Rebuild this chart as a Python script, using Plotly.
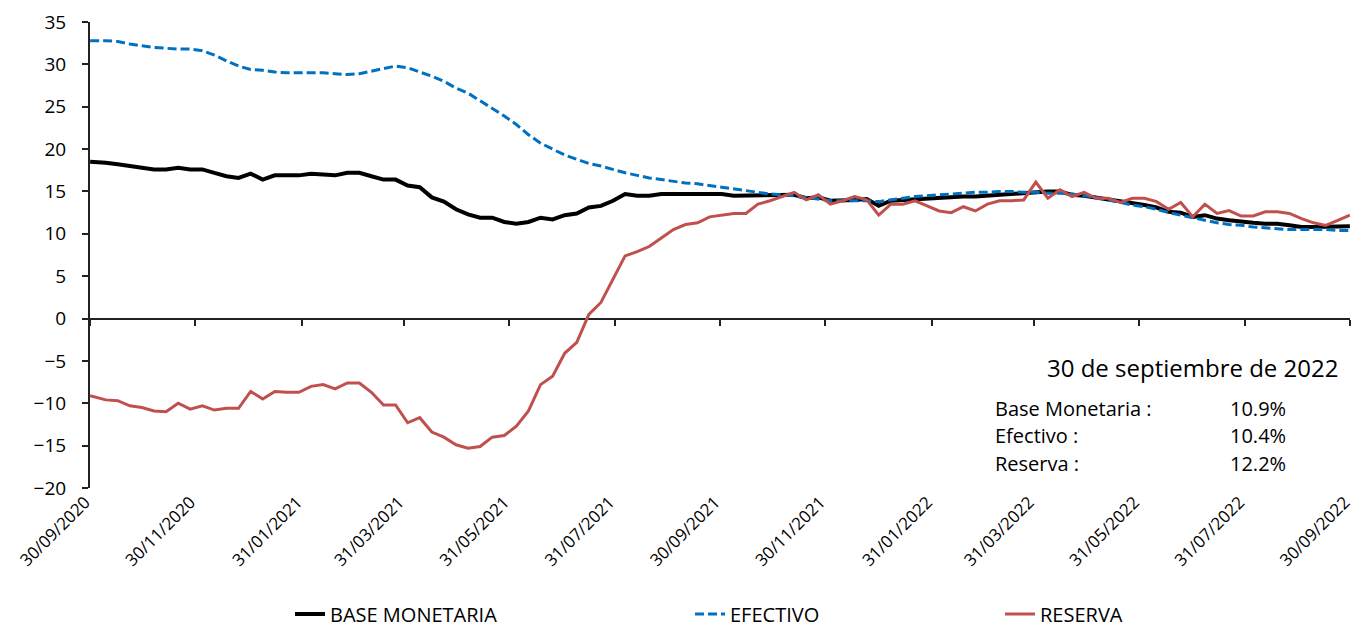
import pandas as pd
import plotly.graph_objects as go

# ---- data ----
dates = list(pd.date_range("2020-10-02", "2022-09-30", freq="7D"))
dates[0] = pd.Timestamp("2020-09-30")

base_monetaria = [18.5, 18.4, 18.2, 18.0, 17.8, 17.6, 17.6, 17.8, 17.6, 17.6,
                  17.2, 16.8, 16.6, 17.1, 16.4, 16.9, 16.9, 16.9, 17.1, 17.0,
                  16.9, 17.2, 17.2, 16.8, 16.4, 16.4, 15.7, 15.5, 14.3, 13.8,
                  12.9, 12.3, 11.9, 11.9, 11.4, 11.2, 11.4, 11.9, 11.7, 12.2,
                  12.4, 13.1, 13.3, 13.9, 14.7, 14.5, 14.5, 14.7, 14.7, 14.7,
                  14.7, 14.7, 14.7, 14.5, 14.5, 14.5, 14.5, 14.6, 14.6, 14.2,
                  14.3, 13.9, 13.9, 14.0, 14.1, 13.3, 13.9, 14.0, 14.1, 14.2,
                  14.2, 14.3, 14.4, 14.4, 14.5, 14.6, 14.7, 14.8, 15.0, 15.0,
                  15.0, 14.6, 14.5, 14.3, 14.1, 13.9, 13.6, 13.4, 13.1, 12.6,
                  12.5, 12.0, 12.2, 11.8, 11.6, 11.4, 11.3, 11.2, 11.2, 11.0,
                  10.8, 10.8, 10.8, 10.8, 10.9]

efectivo = [32.8, 32.8, 32.7, 32.4, 32.2, 32.0, 31.9, 31.8, 31.8, 31.6,
            31.1, 30.4, 29.8, 29.4, 29.3, 29.1, 29.0, 29.0, 29.0, 29.0,
            28.9, 28.8, 28.9, 29.2, 29.5, 29.8, 29.6, 29.1, 28.6, 28.0,
            27.2, 26.6, 25.7, 24.9, 23.9, 22.9, 21.7, 20.7, 20.0, 19.3,
            18.8, 18.3, 18.0, 17.6, 17.2, 16.9, 16.6, 16.4, 16.2, 16.0,
            15.9, 15.7, 15.5, 15.3, 15.1, 14.9, 14.7, 14.6, 14.5, 14.3,
            14.1, 13.9, 13.9, 13.9, 13.9, 13.8, 14.0, 14.2, 14.4, 14.5,
            14.6, 14.7, 14.8, 14.9, 14.9, 15.0, 15.0, 14.9, 14.9, 14.8,
            14.8, 14.7, 14.5, 14.3, 14.0, 13.7, 13.4, 13.2, 12.9, 12.5,
            12.2, 11.9, 11.6, 11.3, 11.1, 11.0, 10.8, 10.7, 10.6, 10.5,
            10.5, 10.5, 10.5, 10.4, 10.4]

reserva = [-9.1, -9.6, -9.7, -10.3, -10.5, -10.9, -11.0, -10.0, -10.7, -10.3,
           -10.8, -10.6, -10.6, -8.6, -9.5, -8.6, -8.7, -8.7, -8.0, -7.8,
           -8.3, -7.6, -7.6, -8.7, -10.2, -10.2, -12.3, -11.7, -13.4, -14.0,
           -14.9, -15.3, -15.1, -14.0, -13.8, -12.7, -10.9, -7.8, -6.8, -4.1,
           -2.8, 0.5, 1.9, 4.6, 7.4, 7.9, 8.5, 9.5, 10.5, 11.1,
           11.3, 12.0, 12.2, 12.4, 12.4, 13.5, 13.9, 14.4, 14.9, 14.0,
           14.6, 13.5, 13.9, 14.4, 14.0, 12.2, 13.5, 13.5, 13.9, 13.3,
           12.7, 12.5, 13.2, 12.7, 13.5, 13.9, 13.9, 14.0, 16.1, 14.2,
           15.2, 14.4, 14.9, 14.2, 14.2, 13.7, 14.2, 14.2, 13.8, 12.9,
           13.7, 12.0, 13.5, 12.4, 12.75, 12.1, 12.1, 12.6, 12.6, 12.4,
           11.8, 11.3, 11.0, 11.6, 12.2]

tick_dates = ["2020-09-30", "2020-11-30", "2021-01-31", "2021-03-31", "2021-05-31",
              "2021-07-31", "2021-09-30", "2021-11-30", "2022-01-31", "2022-03-31",
              "2022-05-31", "2022-07-31", "2022-09-30"]
tick_labels = ["30/09/2020", "30/11/2020", "31/01/2021", "31/03/2021", "31/05/2021",
               "31/07/2021", "30/09/2021", "30/11/2021", "31/01/2022", "31/03/2022",
               "31/05/2022", "31/07/2022", "30/09/2022"]

note_title = "30 de septiembre de 2022"
note_names = ["Base Monetaria :", "Efectivo :", "Reserva :"]
note_values = ["10.9%", "10.4%", "12.2%"]

FONT = "Open Sans"

fig = go.Figure()
fig.add_trace(go.Scatter(x=dates, y=base_monetaria, mode="lines", name="BASE MONETARIA",
                         line=dict(color="black", width=4), legend="legend"))
fig.add_trace(go.Scatter(x=dates, y=efectivo, mode="lines", name="EFECTIVO",
                         line=dict(color="#0070C0", width=3, dash="9px,4px"), legend="legend2"))
fig.add_trace(go.Scatter(x=dates, y=reserva, mode="lines", name="RESERVA",
                         line=dict(color="#C0504D", width=3), legend="legend3"))
# axis carrying the tick marks on the zero line
fig.add_trace(go.Scatter(x=[tick_dates[0], tick_dates[-1]], y=[None, None], xaxis="x2",
                         showlegend=False, hoverinfo="skip"))

xr = ["2020-09-29 22:00", "2022-09-30 02:00"]
zero_pos = 20 / 55
leg_y = 1 - 614 / 627

fig.update_layout(
    width=1357, height=627,
    margin=dict(l=90, r=7, t=22, b=139),
    paper_bgcolor="white", plot_bgcolor="white",
    font=dict(family=FONT, color="black", size=17),
    xaxis=dict(type="date", range=xr, tickvals=tick_dates, ticktext=tick_labels,
               tickangle=-45, showgrid=False, showline=False, ticks="",
               zeroline=False, tickfont=dict(size=17), automargin=False,
               ticklabeloverflow="allow", ticklabelshift=-5),
    xaxis2=dict(type="date", range=xr, tickvals=tick_dates, overlaying="x",
                anchor="free", position=zero_pos, side="bottom", showticklabels=False,
                ticks="outside", ticklen=6, tickwidth=2, tickcolor="#222",
                showgrid=False, showline=False, zeroline=False, automargin=False),
    yaxis=dict(range=[-20, 35], dtick=5, showgrid=False, showline=True,
               linecolor="#222", linewidth=2, ticks="outside", ticklen=6,
               tickwidth=2, tickcolor="#222", zeroline=True, zerolinecolor="#222",
               zerolinewidth=2, tickfont=dict(size=19), ticklabelstandoff=12,
               automargin=False),
    legend=dict(orientation="h", x=290 / 1357, y=leg_y, xref="container", yref="container",
                xanchor="left", yanchor="middle", font=dict(size=20)),
    legend2=dict(orientation="h", x=690 / 1357, y=leg_y, xref="container", yref="container",
                 xanchor="left", yanchor="middle", font=dict(size=20)),
    legend3=dict(orientation="h", x=1000 / 1357, y=leg_y, xref="container", yref="container",
                 xanchor="left", yanchor="middle", font=dict(size=20)),
    showlegend=True,
)

def px_x(px):
    return (px - 90) / 1260

def px_y(py):
    return (488 - py) / 466

fig.add_annotation(x=px_x(1340), y=px_y(367), xref="paper", yref="paper", text=note_title,
                   showarrow=False, xanchor="right", yanchor="middle", font=dict(size=24))
for i, (nm, val) in enumerate(zip(note_names, note_values)):
    yy = px_y(408 + 27.5 * i)
    fig.add_annotation(x=px_x(993), y=yy, xref="paper", yref="paper", text=nm,
                       showarrow=False, xanchor="left", yanchor="middle", font=dict(size=20))
    fig.add_annotation(x=px_x(1288), y=yy, xref="paper", yref="paper", text=val,
                       showarrow=False, xanchor="right", yanchor="middle", font=dict(size=20))

fig.write_html("out.html", config={"displayModeBar": False},
               post_script="document.body.style.margin='0';")
